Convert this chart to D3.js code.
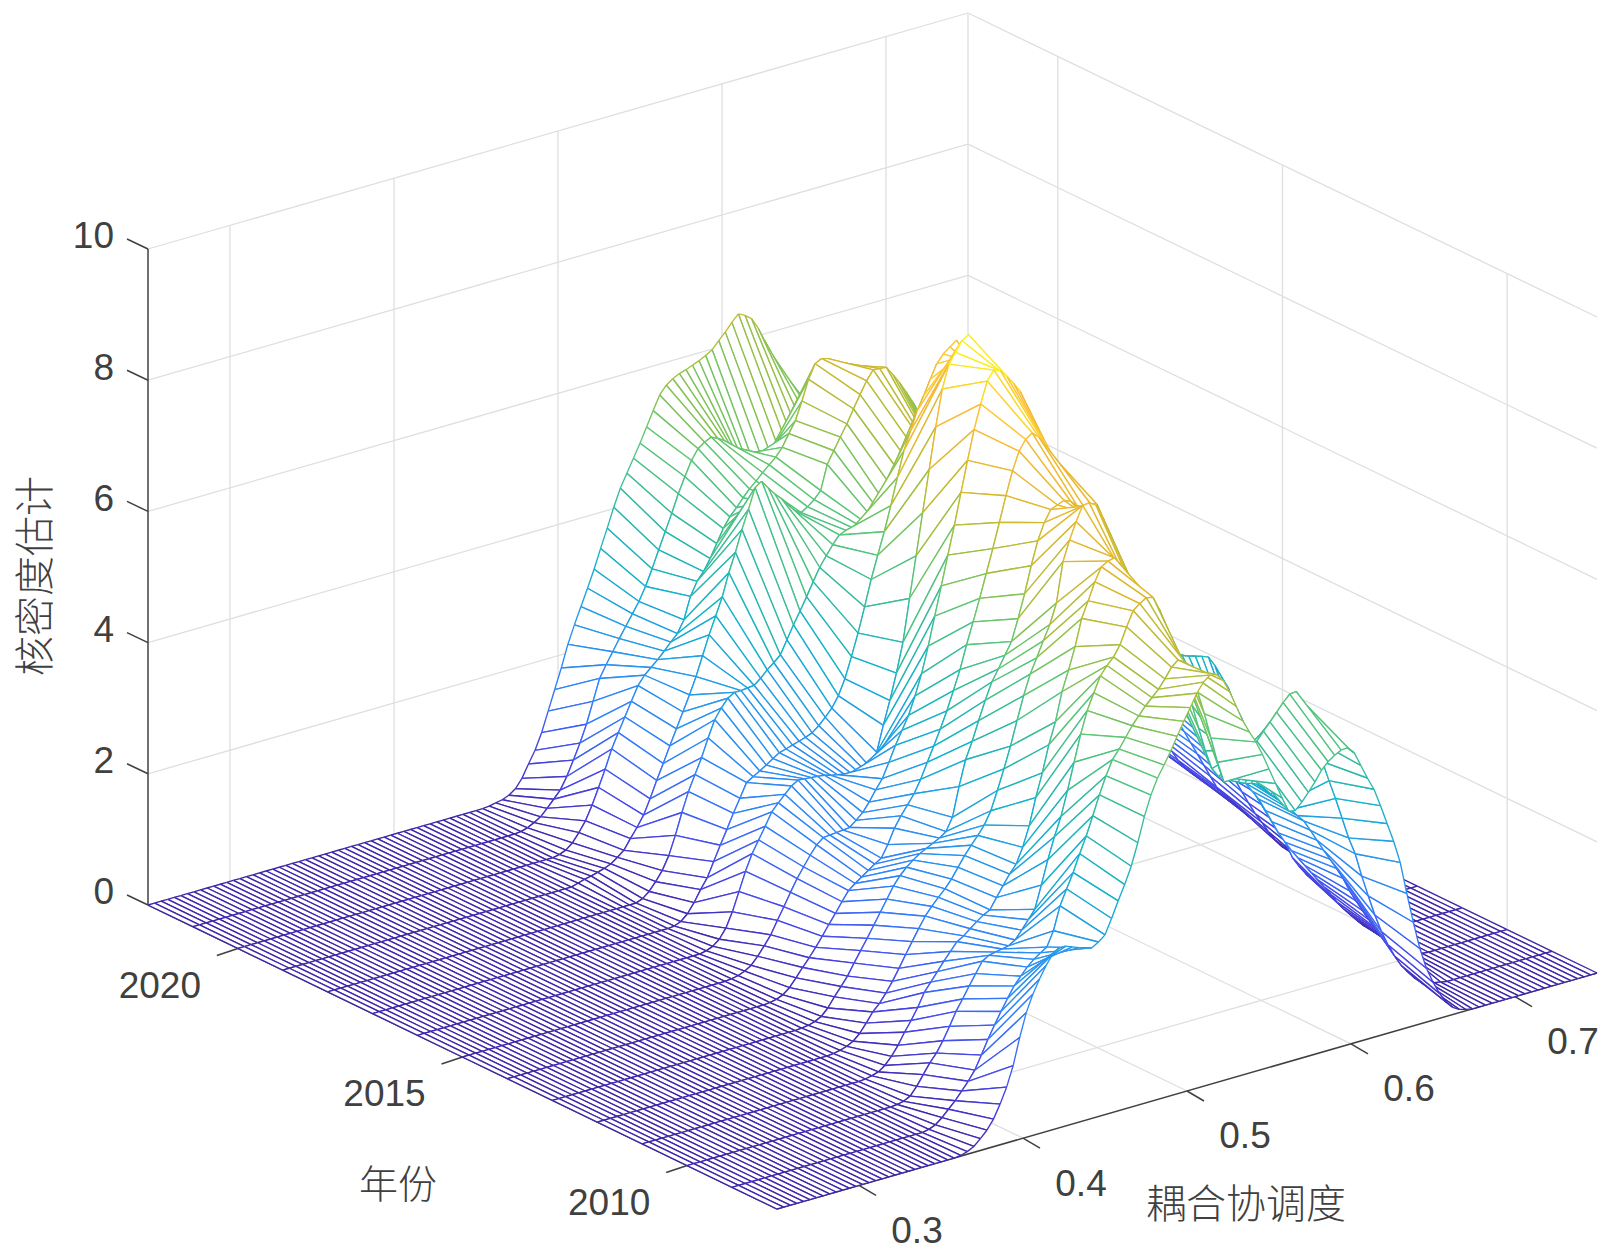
<!DOCTYPE html>
<html>
<head>
<meta charset="utf-8">
<title>核密度估计</title>
<script src="https://d3js.org/d3.v7.min.js"></script>
<style>
  body { margin: 0; background: #fff; }
  text { font-family: "Liberation Sans", Arial, sans-serif; fill: #404040; }
  .cjk { font-family: "Noto Sans CJK SC", sans-serif; font-weight: 300; }
</style>
</head>
<body>
<div id="chart"></div>
<script>
// tick labels
var xTicks = [0.3, 0.4, 0.5, 0.6, 0.7];
var yTicks = [2010, 2015, 2020];
var zTicks = [0, 2, 4, 6, 8, 10];

// mesh columns, coupling degree
var xGrid = [
0.250,0.254,0.258,0.262,0.266,0.270,0.274,0.278,0.282,0.286,
0.290,0.294,0.298,0.302,0.306,0.310,0.314,0.318,0.322,0.326,
0.330,0.334,0.338,0.342,0.346,0.350,0.354,0.358,0.362,0.366,
0.370,0.374,0.378,0.382,0.386,0.390,0.394,0.398,0.402,0.406,
0.410,0.414,0.418,0.422,0.426,0.430,0.434,0.438,0.442,0.446,
0.450,0.454,0.458,0.462,0.466,0.470,0.474,0.478,0.482,0.486,
0.490,0.494,0.498,0.502,0.506,0.510,0.514,0.518,0.522,0.526,
0.530,0.534,0.538,0.542,0.546,0.550,0.554,0.558,0.562,0.566,
0.570,0.574,0.578,0.582,0.586,0.590,0.594,0.598,0.602,0.606,
0.610,0.614,0.618,0.622,0.626,0.630,0.634,0.638,0.642,0.646,
0.650,0.654,0.658,0.662,0.666,0.670,0.674,0.678,0.682,0.686,
0.690,0.694,0.698,0.702,0.706,0.710,0.714,0.718,0.722,0.726,
0.730,0.734,0.738,0.742,0.746,0.750];

// density per year
var z2008 = [
0,0,0,0,0,0,0,0,0,0, 0,0,0,0,0,0,0,0,0,0, 0,0,0,0,0,0,0,0,
.01,.04,.09,.18,.28,.42,.62,.85,1.15,1.55,1.9,2.15,2.35,2.53,2.67,2.74,2.74,2.7,2.66,2.62,2.6,2.66,2.74,2.96,3.2,3.42,3.67,4,4.37,4.67,4.9,5.07,5.25,5.45,5.65,5.83,6.02,6.16,6.24,6.22,6.1,5.9,5.65,5.4,5.2,5.02,4.8,4.55,4.3,4.05,3.82,3.8,3.9,4.02,4.15,4.3,4.4,4.47,4.52,4.53,4.42,4.2,3.98,3.78,3.5,3.2,2.9,2.55,2.05,1.58,1.15,.82,.58,.38,.22,.11,.05,.02,
0,0,0,0,0,0,0,0,0,0, 0,0,0,0,0,0,0,0,0,0];
var z2009 = [
0,0,0,0,0,0,0,0,0,0, 0,0,0,0,0,0,0,0,0,0, 0,0,0,0,0,0,0,0,0,0,
.02,.06,.14,.24,.34,.46,.58,.72,.92,1.13,1.32,1.5,1.67,1.83,1.95,2.06,2.15,2.22,2.28,2.5,2.85,3.08,3.3,3.56,3.8,4.08,4.37,4.63,4.85,4.98,5.13,5.28,5.4,5.52,5.62,5.72,5.85,6,6.08,6.02,5.8,5.5,5.15,4.75,4.35,4.02,4.05,4.15,4.28,4.4,4.5,4.62,4.73,4.85,4.97,5.07,5.08,4.9,4.6,4.25,3.9,3.58,3.28,2.95,2.62,2.35,1.98,1.65,1.33,1.05,.82,.62,.45,.32,.2,.13,.08,.04,.02,
0,0,0,0,0,0,0,0,0,0, 0,0,0,0,0,0,0];
var z2010 = [
0,0,0,0,0,0,0,0,0,0, 0,0,0,0,0,0,0,0,0,0, 0,0,0,0,0,0,0,0,0,0, 0,0,
.01,.03,.08,.2,.35,.5,.62,.78,.97,1.17,1.33,1.5,1.66,1.82,1.88,1.9,1.92,1.94,2,2.12,2.25,2.38,2.72,3.08,3.4,3.68,4.05,4.45,4.85,5.18,5.42,5.65,5.78,5.88,6.04,6.28,6.5,6.58,6.64,6.62,6.4,6.1,5.85,5.6,5.2,4.8,4.42,4.05,3.75,3.6,3.53,3.48,3.43,3.38,3.35,3.31,3.22,3.1,3,2.9,2.78,2.66,2.55,2.38,2.2,2.02,1.85,1.68,1.5,1.28,1.1,.92,.75,.6,.48,.36,.25,.13,.07,.03,.01,
0,0,0,0,0,0,0,0,0,0, 0,0,0];
var z2011 = [
0,0,0,0,0,0,0,0,0,0, 0,0,0,0,0,0,0,0,0,0, 0,0,0,0,0,0,0,0,0,0, 0,0,0,0,
.01,.03,.06,.13,.24,.38,.55,.7,.87,1.07,1.2,1.33,1.46,1.58,1.7,1.76,1.84,1.92,1.99,2.04,2.2,2.35,2.5,2.62,2.85,3.15,3.55,3.9,4.3,4.62,5.05,5.35,5.68,6.08,6.32,6.58,6.78,6.84,6.86,6.72,6.45,6.2,5.98,5.8,5.6,5.25,4.9,4.6,4.4,4.2,4,3.85,3.72,3.62,3.5,3.3,3.15,3,2.85,2.7,2.55,2.35,2.15,1.95,1.78,1.62,1.48,1.34,1.2,1.06,.92,.78,.63,.5,.38,.27,.16,.1,.05,.02,
0,0,0,0,0,0,0,0,0,0, 0,0];
var z2012 = [
0,0,0,0,0,0,0,0,0,0, 0,0,0,0,0,0,0,0,0,0, 0,0,0,0,0,0,0,0,0,0, 0,0,0,0,0,0,
.01,.03,.06,.11,.2,.33,.47,.57,.7,.85,1.02,1.2,1.37,1.54,1.7,1.82,1.93,2.03,2.15,2.3,2.45,2.58,2.7,2.83,3.02,3.3,3.6,3.92,4.28,4.63,4.93,5.15,5.38,5.6,5.9,6.5,6.8,7.05,7.27,7.28,7.22,7,6.75,6.45,6.2,5.95,5.7,5.45,5.2,5,4.75,4.58,4.4,4.2,4,3.8,3.62,3.44,3.25,3.1,2.93,2.77,2.6,2.44,2.3,2.1,1.9,1.68,1.45,1.22,.98,.82,.68,.56,.45,.36,.28,.2,.12,.06,.02,
0,0,0,0,0,0,0,0,0];
var z2013 = [
0,0,0,0,0,0,0,0,0,0, 0,0,0,0,0,0,0,0,0,0, 0,0,0,0,0,0,0,0,0,0, 0,0,0,0,0,0,0,0,
.01,.02,.05,.1,.2,.34,.47,.6,.77,.93,1.09,1.26,1.43,1.6,1.77,1.9,2,2.08,2.15,2.2,2.25,2.3,2.37,2.56,3,3.38,3.63,3.92,4.2,4.45,4.62,4.8,4.98,5.3,5.65,6.05,6.4,6.65,6.82,6.86,6.9,6.86,6.76,6.72,6.74,6.7,6.45,6.2,5.9,5.65,5.4,5.15,4.95,4.75,4.55,4.38,4.22,4.1,4.02,3.98,3.95,3.92,3.88,3.72,3.52,3.33,3.05,2.82,2.55,2.3,2.05,1.78,1.52,1.27,1.03,.8,.6,.38,.18,.08,.03,.01,
0,0,0,0,0,0];
var z2014 = [
0,0,0,0,0,0,0,0,0,0, 0,0,0,0,0,0,0,0,0,0, 0,0,0,0,0,0,0,0,0,0, 0,0,0,0,0,0,0,0,0,0,
.01,.03,.07,.15,.27,.4,.52,.65,.79,.94,1.08,1.23,1.37,1.45,1.52,1.59,1.66,1.72,1.9,2.12,2.28,2.42,2.56,2.75,2.98,3.2,3.43,3.68,3.96,4.25,4.6,4.92,5.25,5.6,5.95,6.32,6.7,7.05,7.32,7.47,7.54,7.45,7.3,7.12,6.9,6.65,6.35,6.05,5.8,5.52,5.25,4.95,4.7,4.45,4.25,4.08,3.9,3.75,3.6,3.47,3.35,3.22,3.1,2.98,2.83,2.6,2.38,2.15,1.95,1.75,1.55,1.35,1.15,.95,.76,.6,.43,.28,.15,.07,.03,.01,
0,0,0,0];
var z2015 = [
0,0,0,0,0,0,0,0,0,0, 0,0,0,0,0,0,0,0,0,0, 0,0,0,0,0,0,0,0,0,0, 0,0,0,0,0,0,0,0,0,0, 0,
.01,.03,.07,.13,.24,.37,.51,.7,.88,1.07,1.25,1.4,1.55,1.68,1.76,1.77,1.78,1.79,1.8,1.88,1.97,2.1,2.26,2.4,2.62,2.85,3.05,3.25,3.52,3.83,4.22,4.65,5.08,5.52,5.95,6.42,6.88,7.32,7.68,8,8.14,8.1,7.98,7.85,7.7,7.35,7,6.68,6.35,6,5.68,5.36,5.04,4.72,4.4,4.2,4.02,3.85,3.68,3.5,3.36,3.22,3.08,2.94,2.8,2.6,2.4,2.2,2,1.8,1.6,1.4,1.2,1,.8,.68,.55,.44,.32,.2,.1,.05,.02,.01,0];
var z2016 = [
0,0,0,0,0,0,0,0,0,0, 0,0,0,0,0,0,0,0,0,0, 0,0,0,0,0,0,0,0,0,0, 0,0,0,0,0,0,0,0,0,0, 0,0,0,0,
.02,.06,.14,.28,.5,.78,1.06,1.3,1.48,1.66,1.85,1.96,2.06,2.16,2.22,2.21,2.2,2.19,2.18,2.15,2.13,2.11,2.1,2.1,2.1,2.1,2.3,2.68,3.03,3.42,3.86,4.5,5.12,5.75,6.38,7,7.55,7.9,8.05,8.2,8.26,8.1,7.95,7.68,7.35,7.05,6.7,6.38,6.05,5.7,5.35,5.02,4.68,4.43,4.2,3.98,3.77,3.55,3.38,3.22,3.05,2.9,2.73,2.55,2.35,2.15,1.95,1.75,1.56,1.38,1.2,1.02,.85,.72,.6,.5,.42,.34,.27,.2,.14,.1];
var z2017 = [
0,0,0,0,0,0,0,0,0,0, 0,0,0,0,0,0,0,0,0,0, 0,0,0,0,0,0,0,0,0,0, 0,0,0,0,0,0,0,0,0,0, 0,0,0,0,0,0,
.01,.05,.14,.28,.45,.6,.82,1.04,1.25,1.47,1.67,1.88,1.94,2,2.06,2.13,2.19,2.22,2.25,2.28,2.31,2.35,2.43,2.53,2.64,2.8,3.03,3.34,3.67,4.04,4.43,4.77,5.1,5.47,5.87,6.25,6.52,6.8,7,7.22,7.43,7.55,7.63,7.7,7.47,7.2,6.93,6.62,6.25,5.9,5.55,5.18,4.85,4.55,4.25,3.95,3.65,3.38,3.15,2.95,2.72,2.5,2.3,2.12,1.95,1.77,1.58,1.42,1.27,1.15,1,.87,.77,.68,.62,.55,.5,.45,.4,.35];
var z2018 = [
0,0,0,0,0,0,0,0,0,0, 0,0,0,0,0,0,0,0,0,0, 0,0,0,0,0,0,0,0,0,0, 0,0,0,0,0,0,0,0,0,0, 0,0,0,0,0,0,0,0,
.04,.12,.24,.38,.58,.86,1.18,1.47,1.7,1.93,2.2,2.45,2.6,2.72,2.78,2.78,2.79,2.8,2.88,2.98,3.06,3.15,3.35,3.55,3.73,3.92,4.12,4.31,4.46,4.6,4.72,4.76,4.77,4.78,4.79,4.84,4.92,5,5.22,5.44,5.62,5.78,5.88,5.77,5.65,5.5,5.3,5.1,4.9,4.7,4.48,4.24,4,3.76,3.52,3.3,3.1,2.9,2.7,2.5,2.3,2.1,1.9,1.7,1.5,1.32,1.18,1.04,.9,.75,.6,.47,.42,.37,.32,.27,.2,.15];
var z2019 = [
0,0,0,0,0,0,0,0,0,0, 0,0,0,0,0,0,0,0,0,0, 0,0,0,0,0,0,0,0,0,0, 0,0,0,0,0,0,0,0,0,0, 0,0,0,0,0,.03,.06,.08,
.11,.14,.18,.25,.33,.48,.62,.78,1,1.25,1.48,1.72,1.95,2.18,2.41,2.66,2.95,3.24,3.5,3.76,4.1,4.38,4.7,4.98,5.28,5.35,5.22,5.1,5,4.88,4.76,4.7,4.76,4.84,4.95,5.32,5.5,5.68,5.85,6.05,6.24,6.42,6.56,6.55,6.54,6.4,6.25,6.08,5.9,5.7,5.42,5.15,4.85,4.57,4.28,3.98,3.68,3.38,3.08,2.8,2.55,2.28,2.02,1.76,1.56,1.38,1.2,1.02,.85,.7,.57,.44,.31,.18,.11,.07,.03,0];
var z2020 = [
0,0,0,0,0,0,0,0,0,0, 0,0,0,0,0,0,0,0,0,0, 0,0,0,0,0,0,0,0,0,0, 0,0,0,0,0,0,0,0,0,0, 0,0,0,0,0,0,0,0,0,
.02,.06,.14,.27,.42,.63,.87,1.12,1.4,1.62,1.83,2.04,2.25,2.38,2.47,2.56,2.66,2.77,2.87,3.05,3.38,3.58,3.7,3.87,4.07,4.27,4.42,4.53,4.65,4.76,4.85,4.95,5.04,5.13,5.25,5.43,5.6,5.87,6.17,6.38,6.43,6.4,6.33,6.25,6.16,6.05,5.83,5.62,5.41,5.17,4.9,4.65,4.4,4.12,3.88,3.64,3.4,3.16,2.92,2.7,2.47,2.25,2.03,1.81,1.6,1.4,1.2,1.02,.85,.72,.58,.44,.3,.17,.08,.03,0];
var z2021 = [
0,0,0,0,0,0,0,0,0,0, 0,0,0,0,0,0,0,0,0,0, 0,0,0,0,0,0,0,0,0,0, 0,0,0,0,0,0,0,0,0,0, 0,0,0,0,0,0,0,0,0,0,
.01,.04,.09,.15,.25,.36,.47,.65,.87,1.1,1.36,1.68,2,2.18,2.35,2.52,2.68,2.84,3,3.2,3.44,3.7,3.95,4.2,4.47,4.7,4.92,5.07,5.14,5.19,5.14,5.08,4.96,4.8,4.65,4.5,4.45,4.56,4.68,4.8,4.9,4.93,4.96,4.98,5,5,4.9,4.76,4.64,4.52,4.4,4.18,3.96,3.74,3.52,3.3,3.04,2.78,2.52,2.26,2,1.8,1.6,1.4,1.2,1,.86,.72,.58,.44,.3,.24,.18,.12,.06,0];
var z2022 = [
0,0,0,0,0,0,0,0,0,0, 0,0,0,0,0,0,0,0,0,0, 0,0,0,0,0,0,0,0,0,0, 0,0,0,0,0,0,0,0,0,0, 0,0,0,0,0,0,0,0,0,0, 0,0,
.01,.03,.05,.09,.16,.29,.48,.66,.9,1.2,1.5,1.8,2.13,2.4,2.65,2.9,3.16,3.45,3.73,4.02,4.28,4.48,4.68,4.88,5.1,5.32,5.53,5.65,5.72,5.77,5.8,5.84,5.88,5.93,5.99,6.1,6.2,6.32,6.42,6.37,6.29,6.12,5.9,5.68,5.47,5.26,5.05,4.83,4.62,4.41,4.2,3.99,3.75,3.53,3.31,3.09,2.87,2.65,2.43,2.21,1.99,1.77,1.55,1.35,1.15,.95,.75,.56,.43,.3,.17,.08,.03,0];

var years = [2008,2009,2010,2011,2012,2013,2014,2015,2016,2017,2018,2019,2020,2021,2022];
var rows = [z2008,z2009,z2010,z2011,z2012,z2013,z2014,z2015,z2016,z2017,z2018,z2019,z2020,z2021,z2022];

// parula stops
var parula = ["#3e26a8","#4747eb","#3180fb","#2796eb","#12b2cc","#33baa0","#5cc775","#a1bf3d","#d9b82b","#fcbd3b","#f9fb15"];

var width = 1614, height = 1260;

// projection of the box: each data axis is a screen vector from the front corner
var front = [777, 1209], xVec = [820, -236], yVec = [-629, -304];
var tx = d3.scaleLinear().domain([0.25, 0.75]).range([0, 1]);
var ty = d3.scaleLinear().domain([2008, 2022]).range([0, 1]);
var hz = d3.scaleLinear().domain([0, 10]).range([0, 656]);

function project(x, y, z) {
  var a = tx(x), b = ty(y);
  return [front[0] + a * xVec[0] + b * yVec[0],
          front[1] + a * xVec[1] + b * yVec[1] - hz(z)];
}

var zMax = d3.max(rows, function(r) { return d3.max(r); });
var color = d3.scaleLinear()
  .domain(parula.map(function(c, i) { return zMax * i / (parula.length - 1); }))
  .range(parula);

var svg = d3.select("#chart").append("svg")
  .attr("width", width).attr("height", height)
  .style("display", "block");

var line = d3.line();

function seg(a, b) { return line([project(a[0], a[1], a[2]), project(b[0], b[1], b[2])]); }

// back walls and floor grid
var gridPaths = [];
zTicks.forEach(function(z) {
  gridPaths.push(seg([0.25, 2022, z], [0.75, 2022, z]));
  gridPaths.push(seg([0.75, 2022, z], [0.75, 2008, z]));
});
xTicks.forEach(function(x) {
  gridPaths.push(seg([x, 2008, 0], [x, 2022, 0]));
  gridPaths.push(seg([x, 2022, 0], [x, 2022, 10]));
});
yTicks.forEach(function(y) {
  gridPaths.push(seg([0.25, y, 0], [0.75, y, 0]));
  gridPaths.push(seg([0.75, y, 0], [0.75, y, 10]));
});
gridPaths.push(seg([0.75, 2022, 0], [0.75, 2022, 10]));

svg.append("g").selectAll("path").data(gridPaths).join("path")
  .attr("d", function(d) { return d; })
  .attr("fill", "none")
  .attr("stroke", "#dfdfdf")
  .attr("stroke-width", 1.3);

// axis lines and ticks
var axisColor = "#404040";
var axisG = svg.append("g").attr("fill", "none").attr("stroke", axisColor).attr("stroke-width", 1.5);
axisG.append("path").attr("d", seg([0.25, 2008, 0], [0.75, 2008, 0]));
axisG.append("path").attr("d", seg([0.25, 2008, 0], [0.25, 2022, 0]));
axisG.append("path").attr("d", seg([0.25, 2022, 0], [0.25, 2022, 10]));

xTicks.forEach(function(v) {
  var p = project(v, 2008, 0);
  axisG.append("path").attr("d", line([p, [p[0] + 17, p[1] + 10]]));
  svg.append("text").attr("x", p[0] + 58).attr("y", p[1] + 44)
    .attr("text-anchor", "middle").attr("dy", "0.36em").attr("font-size", 37)
    .text(d3.format(".1f")(v));
});
yTicks.forEach(function(v) {
  var p = project(0.25, v, 0);
  axisG.append("path").attr("d", line([p, [p[0] - 21, p[1] + 7]]));
  svg.append("text").attr("x", p[0] - 78).attr("y", p[1] + 36)
    .attr("text-anchor", "middle").attr("dy", "0.36em").attr("font-size", 37)
    .text(v);
});
zTicks.forEach(function(v) {
  var p = project(0.25, 2022, v);
  axisG.append("path").attr("d", line([p, [p[0] - 21, p[1] - 10]]));
  svg.append("text").attr("x", 114).attr("y", p[1] - 14)
    .attr("text-anchor", "end").attr("dy", "0.36em").attr("font-size", 37)
    .text(v);
});

// mesh, painted from the far corner to the near one so white faces hide what is behind
var items = [];
for (var s = rows.length - 2; s >= 0; s--) {
  for (var i = xGrid.length - 2; i >= 0; i--) {
    var a = [xGrid[i], years[s], rows[s][i]],
        b = [xGrid[i + 1], years[s], rows[s][i + 1]],
        c = [xGrid[i + 1], years[s + 1], rows[s + 1][i + 1]],
        e = [xGrid[i], years[s + 1], rows[s + 1][i]];
    items.push({ d: line([a, b, c, e].map(function(p) { return project(p[0], p[1], p[2]); })) + "Z", fill: "#fff", stroke: "none" });
    [[c, e], [b, c], [e, a], [a, b]].forEach(function(pair) {
      items.push({ d: seg(pair[0], pair[1]), fill: "none", stroke: color((pair[0][2] + pair[1][2]) / 2) });
    });
  }
}

svg.append("g").selectAll("path").data(items).join("path")
  .attr("d", function(d) { return d.d; })
  .attr("fill", function(d) { return d.fill; })
  .attr("stroke", function(d) { return d.stroke; })
  .attr("stroke-width", 1.35);

// axis titles
svg.append("text").attr("class", "cjk").attr("x", 398).attr("y", 1184)
  .attr("text-anchor", "middle").attr("dy", "0.36em").attr("font-size", 39).text("年份");
svg.append("text").attr("class", "cjk").attr("x", 1246).attr("y", 1204)
  .attr("text-anchor", "middle").attr("dy", "0.36em").attr("font-size", 40).text("耦合协调度");
svg.append("text").attr("class", "cjk")
  .attr("transform", "translate(35,576) rotate(-90)")
  .attr("text-anchor", "middle").attr("dy", "0.36em").attr("font-size", 40).text("核密度估计");
</script>
</body>
</html>
